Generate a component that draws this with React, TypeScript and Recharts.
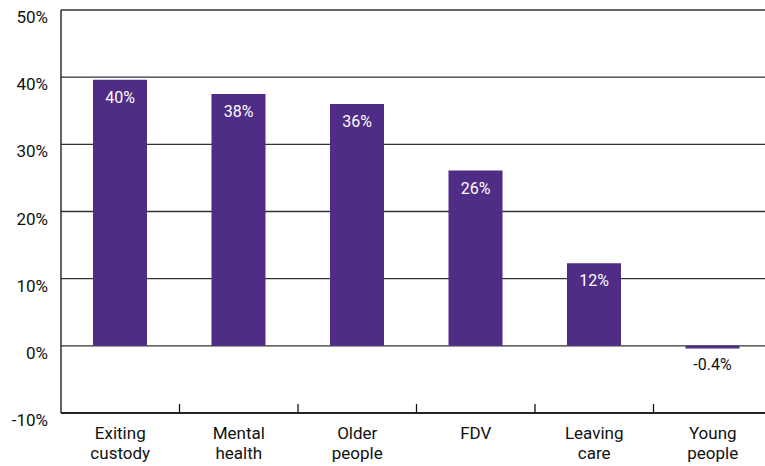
import { BarChart, Bar, XAxis, YAxis, CartesianGrid, LabelList } from "recharts";

const categories = ["Exiting custody", "Mental health", "Older people", "FDV", "Leaving care", "Young people"];
const values = [39.6, 37.5, 36.0, 26.1, 12.3, -0.4];
const valueLabels = ["40%", "38%", "36%", "26%", "12%", "-0.4%"];
const yTicks = [-10, 0, 10, 20, 30, 40, 50];

const data = categories.map((name, i) => ({ name, value: values[i], label: valueLabels[i] }));

const FONT = "Roboto, 'DejaVu Sans', sans-serif";
const PURPLE = "#4f2c85";

const YTick = (props: any) => {
  const { x, y, payload } = props;
  return (
    <text x={x} y={y} dy={13} textAnchor="end" fontSize={17} fill="#111" fontFamily={FONT}>
      {payload.value}%
    </text>
  );
};

// category label plus a short separator tick on the left edge of each band
const XTick = (props: any) => {
  const { x, y, payload, index } = props;
  const lines = String(payload.value).split(" ");
  const half = payload.offset || 0;
  return (
    <g>
      {index > 0 && (
        <line x1={x - half} x2={x - half} y1={y} y2={y - 9} stroke="#111" strokeWidth={1.3} />
      )}
      <text x={x} y={y} textAnchor="middle" fontSize={17} fill="#111" fontFamily={FONT}>
        {lines.map((l, i) => (
          <tspan key={i} x={x} dy={i === 0 ? 26 : 20}>
            {l}
          </tspan>
        ))}
      </text>
    </g>
  );
};

const ValueLabel = (props: any) => {
  const { x, y, width, height, index } = props;
  const top = Math.min(y, y + height);
  const bottom = Math.max(y, y + height);
  const negative = values[index] < 0;
  return (
    <text
      x={x + width / 2}
      y={negative ? bottom + 21 : top + 23}
      textAnchor="middle"
      fontSize={16}
      fill={negative ? "#111" : "#fff"}
      fontFamily={FONT}
    >
      {valueLabels[index]}
    </text>
  );
};

export default function App() {
  return (
    <div style={{ position: "absolute", left: 0, top: 0, width: 765, height: 466, background: "#fff" }}>
      <BarChart width={765} height={466} data={data} margin={{ top: 10, right: -7, bottom: 0, left: 0 }}>
        <CartesianGrid vertical={false} stroke="#333" strokeWidth={1.3} />
        <XAxis
          dataKey="name"
          height={53}
          tickLine={false}
          tickSize={0}
          tickMargin={0}
          axisLine={{ stroke: "#111", strokeWidth: 1.3 }}
          tick={<XTick />}
          interval={0}
        />
        <YAxis
          domain={[-10, 50]}
          ticks={yTicks}
          width={61}
          axisLine={{ stroke: "#111", strokeWidth: 1.3 }}
          tickLine={false}
          tick={<YTick />}
          tickMargin={7}
        />
        <Bar dataKey="value" fill={PURPLE} barSize={54} isAnimationActive={false}>
          <LabelList dataKey="label" content={<ValueLabel />} />
        </Bar>
      </BarChart>
    </div>
  );
}
